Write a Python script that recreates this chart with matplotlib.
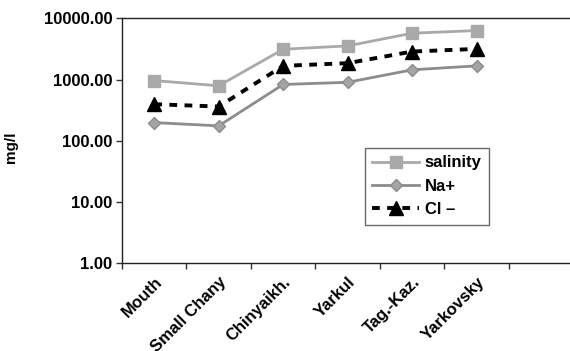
import matplotlib
matplotlib.use("Agg")
import matplotlib.pyplot as plt
import numpy as np

plt.rcParams['font.family'] = ['Liberation Sans', 'DejaVu Sans']

sites = ["Mouth", "Small Chany", "Chinyaikh.", "Yarkul", "Tag.-Kaz.", "Yarkovsky"]
salinity = [960, 790, 3120, 3540, 5700, 6300]
sodium = [198, 175, 830, 900, 1440, 1670]
chloride = [395, 362, 1670, 1850, 2860, 3160]

fig = plt.figure(figsize=(5.7, 3.51), dpi=100)
ax = fig.add_axes([0.214, 0.25, 0.792, 0.698])

# points sit in the middle of each category slot, one empty slot at the end
x = np.arange(len(sites)) + 0.5

ax.plot(x, salinity, color='#a9a9a9', lw=2, marker='s', ms=8.5,
        mfc='#a9a9a9', mec='#a9a9a9', label='salinity')
ax.plot(x, sodium, color='#8c8c8c', lw=2, marker='D', ms=6.5,
        mfc='#a4a4a4', mec='#8c8c8c', label='Na+')
ax.plot(x, chloride, color='black', lw=2.8, ls=(0, (2, 1.9)), marker='^', ms=9.5,
        mfc='black', mec='black', label='Cl \u2013')

ax.set_yscale('log')
ax.set_ylim(1, 10000)
ax.set_yticks([1, 10, 100, 1000, 10000])
ax.set_yticklabels(['1.00', '10.00', '100.00', '1000.00', '10000.00'],
                   fontsize=12, fontweight='bold')
ax.yaxis.set_minor_locator(matplotlib.ticker.NullLocator())

ax.set_xlim(0, 7)
ax.set_xticks(np.arange(0, 8))
ax.set_xticklabels([])
ax.set_xticks(x, minor=True)
ax.set_xticklabels(sites, minor=True, rotation=45, ha='right', va='top',
                   rotation_mode='anchor', fontsize=12, fontweight='bold')
ax.tick_params(axis='x', which='minor', length=0, pad=8)
ax.tick_params(axis='both', which='major', length=4, width=1, color='#333333')
ax.tick_params(axis='y', which='major', pad=3)

for s in ax.spines.values():
    s.set_color('#222222')
    s.set_linewidth(1)

ax.set_ylabel('mg/l', fontsize=11, fontweight='bold')
ax.yaxis.set_label_coords(-0.23, 0.475)

leg = ax.legend(loc='upper left', bbox_to_anchor=(0.538, 0.471), frameon=True,
                fancybox=False, edgecolor='#444444',
                prop={'weight': 'bold', 'size': 12}, handlelength=2.8,
                borderpad=0.45, labelspacing=0.5, handletextpad=0.35,
                borderaxespad=0)
leg.get_frame().set_linewidth(1)

fig.savefig('out.png', dpi=100)
